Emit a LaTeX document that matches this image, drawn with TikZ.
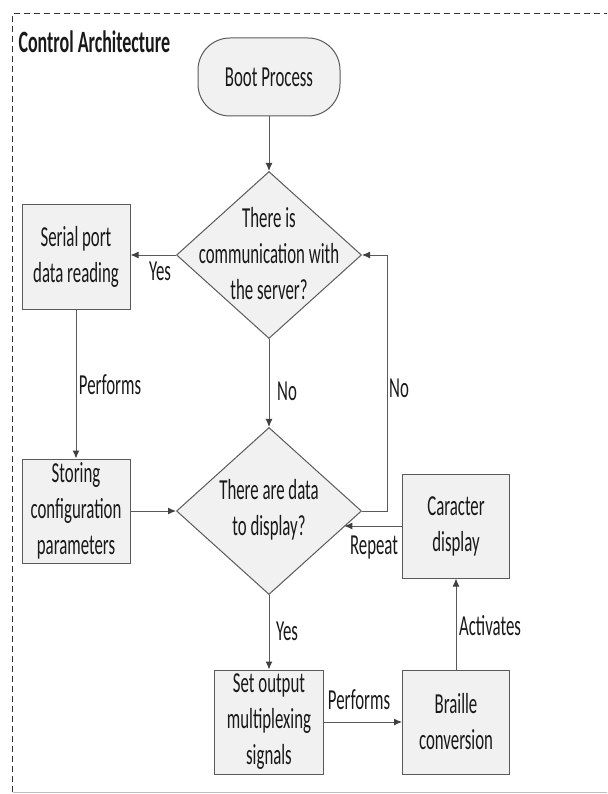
\documentclass[tikz,border=0pt]{standalone}
\usepackage{fontspec}
\setmainfont{Carlito}[FakeStretch=0.58]
\usepackage{tikz}
\usetikzlibrary{arrows.meta}
\usetikzlibrary{positioning}
\usetikzlibrary{shapes.geometric}
\definecolor{linegray}{HTML}{5A5A5A}
\definecolor{boxgray}{HTML}{F1F1F1}
\definecolor{tipgray}{HTML}{404040}
\tikzset{procbox/.style = {draw = linegray, fill = boxgray, line width = 1pt, inner sep = 0, minimum width = 108, minimum height = 104, align = center}}
\tikzset{decision/.style = {diamond, draw = linegray, fill = boxgray, line width = 1pt, inner sep = 0, minimum width = 185, minimum height = 167}}
\tikzset{flow/.style = {draw = linegray, line width = 1pt, -{Latex[length = 8pt, width = 7pt, color = tipgray]}}}

\begin{document}
\begin{tikzpicture}[x = 1pt, y = -1pt, font = \fontsize{29}{36}\selectfont, text = black!90]
      \clip (0, 0) rectangle (607, 794);
      \draw [dashed, dash pattern = on 6pt off 4pt, line width = 0.9pt, black!80] (12.5, 792) -- (12.5, 13.5) -- (640, 13.5);
      \draw [black!25, line width = 0.8pt] (12.5, 792) -- (640, 792);
      \node [anchor = base west, font = \fontsize{31}{36}\selectfont\bfseries] (title) at (15, 53) {Control Architecture};

      \node [draw = linegray, fill = boxgray, line width = 1pt, rounded corners = 32pt, minimum width = 142, minimum height = 78] (boot) at (269, 77) {Boot Process};

      \node [decision] (commq) at (269, 255) {};
      \node [align = center] (commtxt) at (269, 254) {There is\\communication with\\the server?};

      \node [procbox] (serial) at (76, 257) {Serial port\\data reading};
      \node [procbox] (store) at (76, 511) {Storing\\configuration\\parameters};

      \node [decision] (dataq) at (269, 511) {};
      \node [align = center] (datatxt) at (269, 510) {There are data\\to display?};

      \node [procbox, minimum width = 107] (chardisp) at (456, 526) {Caracter\\display};
      \node [procbox, minimum width = 109] (setout) at (269, 722) {Set output\\multiplexing\\signals};
      \node [procbox, minimum width = 107] (braille) at (456, 722) {Braille\\conversion};

      \draw [flow] (boot) -- (commq);
      \draw [flow] (commq.west) -- (commq.west -| serial.east);
      \draw [flow] (serial) -- (store);
      \draw [flow] (store) -- (dataq);
      \draw [flow] (commq) -- (dataq);
      \draw [flow] (dataq.east) -- ++(25, 0) |- (commq.east);
      \draw [flow] (chardisp.west) -- (dataq.-12 |- chardisp.west);
      \draw [flow] (dataq) -- (setout);
      \draw [flow] (setout) -- (braille);
      \draw [flow] (braille) -- (chardisp);

      \node (yes1) at (160, 271) {Yes};
      \node (perf1) at (110, 385) {Performs};
      \node (no1) at (287, 391) {No};
      \node (no2) at (399, 388) {No};
      \node (repeat) at (374, 548) {Repeat};
      \node (yes2) at (287, 631) {Yes};
      \node (perf2) at (359, 700) {Performs};
      \node (activ) at (490, 626) {Activates};
    \end{tikzpicture}
\end{document}
